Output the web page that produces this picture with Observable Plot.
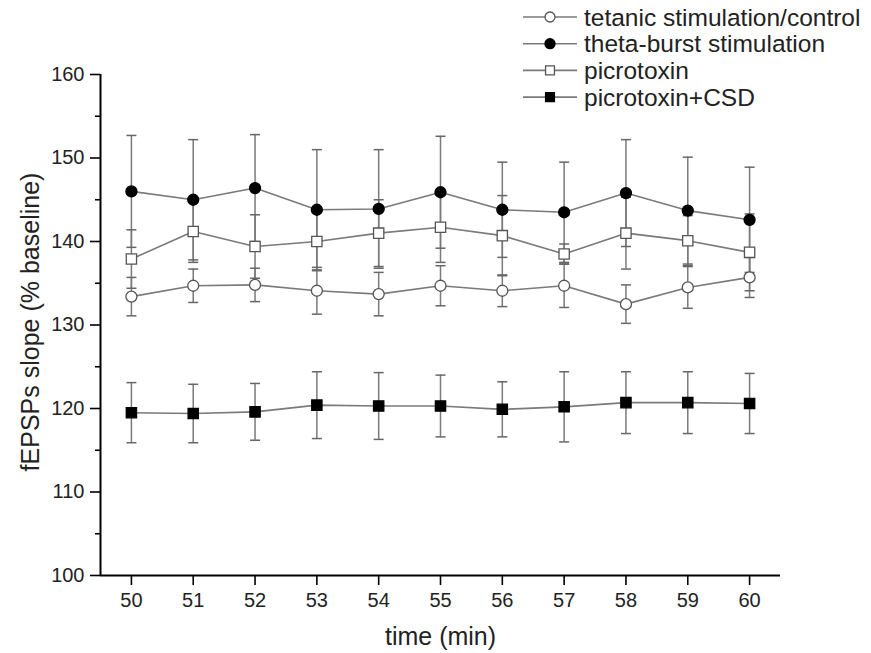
<!DOCTYPE html>
<html>
<head>
<meta charset="utf-8">
<script src="https://cdn.jsdelivr.net/npm/d3@7"></script>
<script src="https://cdn.jsdelivr.net/npm/@observablehq/plot@0.6"></script>
<style>
  body { margin: 0; background: #fff; }
  #wrap { position: relative; width: 871px; height: 653px; }
  #legend { position: absolute; left: 0; top: 0; }
</style>
</head>
<body>
<div id="wrap"></div>
<script>
// ---- data ----
const times = [50, 51, 52, 53, 54, 55, 56, 57, 58, 59, 60];
const seriesNames = ["tetanic stimulation/control", "theta-burst stimulation", "picrotoxin", "picrotoxin+CSD"];

const tetanic    = [133.4, 134.7, 134.8, 134.1, 133.7, 134.7, 134.1, 134.7, 132.5, 134.5, 135.7];
const tetanicErr = [2.3, 2.0, 2.0, 2.8, 2.6, 2.4, 1.9, 2.6, 2.3, 2.5, 2.4];
const theta      = [146.0, 145.0, 146.4, 143.8, 143.9, 145.9, 143.8, 143.5, 145.8, 143.7, 142.6];
const thetaErr   = [6.7, 7.2, 6.4, 7.2, 7.1, 6.7, 5.7, 6.0, 6.4, 6.4, 6.3];
const picro      = [137.9, 141.2, 139.4, 140.0, 141.0, 141.7, 140.7, 138.5, 141.0, 140.1, 138.7];
const picroErr   = [3.5, 3.7, 3.8, 3.5, 4.0, 4.2, 4.8, 1.2, 4.3, 3.0, 4.6];
const csd        = [119.5, 119.4, 119.6, 120.4, 120.3, 120.3, 119.9, 120.2, 120.7, 120.7, 120.6];
const csdErr     = [3.6, 3.5, 3.4, 4.0, 4.0, 3.7, 3.3, 4.2, 3.7, 3.7, 3.6];

const yTicks = [100, 110, 120, 130, 140, 150, 160];
const yMinorTicks = [105, 115, 125, 135, 145, 155];
const xTicks = [50, 51, 52, 53, 54, 55, 56, 57, 58, 59, 60];
const xTitle = "time (min)";
const yTitle = "fEPSPs slope (% baseline)";

// ---- styling ----
const seriesValues = [tetanic, theta, picro, csd];
const seriesErrors = [tetanicErr, thetaErr, picroErr, csdErr];
const seriesSymbols = ["circle", "circle", "square", "square"];
const seriesFills = ["white", "black", "white", "black"];
const seriesStrokes = ["#555", "black", "#555", "black"];
const seriesR = [5.5, 5.5, 5.8, 5.8];
const xDomain = [49.5, 60.5];
const yDomain = [100, 160];
const lineGray = "#7a7a7a";
const font = "'Liberation Sans', Arial, Helvetica, sans-serif";

const rows = seriesNames.flatMap((name, i) =>
  times.map((t, j) => ({
    name, i, t,
    v: seriesValues[i][j],
    lo: seriesValues[i][j] - seriesErrors[i][j],
    hi: seriesValues[i][j] + seriesErrors[i][j]
  }))
);

const capSymbol = {
  draw(ctx, size) {
    const r = Math.sqrt(size / Math.PI);
    ctx.moveTo(-r, 0);
    ctx.lineTo(r, 0);
  }
};

const markerMarks = seriesNames.map((name, i) =>
  Plot.dot(rows.filter(d => d.i === i), {
    x: "t", y: "v", symbol: seriesSymbols[i], r: seriesR[i],
    fill: seriesFills[i], stroke: seriesStrokes[i], strokeWidth: 1.3
  })
);

const chart = Plot.plot({
  width: 871,
  height: 653,
  marginLeft: 100,
  marginRight: 91,
  marginTop: 74,
  marginBottom: 78,
  style: { fontFamily: font, background: "white", color: "black", overflow: "visible" },
  x: { domain: xDomain },
  y: { domain: yDomain },
  marks: [
    // error bars
    Plot.ruleX(rows, { x: "t", y1: "lo", y2: "hi", stroke: lineGray, strokeWidth: 1.5 }),
    Plot.dot(rows, { x: "t", y: "hi", symbol: capSymbol, r: 5, fill: "none", stroke: "#666", strokeWidth: 1.5 }),
    Plot.dot(rows, { x: "t", y: "lo", symbol: capSymbol, r: 5, fill: "none", stroke: "#666", strokeWidth: 1.5 }),
    // connecting lines
    Plot.line(rows, { x: "t", y: "v", z: "name", stroke: lineGray, strokeWidth: 1.6 }),
    // markers
    ...markerMarks,
    // axes
    Plot.axisY(yTicks, { tickSize: 10, tickPadding: 6, fontSize: 20, label: null, stroke: "black", strokeWidth: 1.6, fill: "#222" }),
    Plot.axisY(yMinorTicks, { tickSize: 5, tickFormat: () => "", label: null, stroke: "black", strokeWidth: 1.6 }),
    Plot.axisX(xTicks, { tickSize: 10, tickPadding: 7, fontSize: 20, label: null, stroke: "black", strokeWidth: 1.6, fill: "#222" }),
    Plot.ruleX([xDomain[0]], { stroke: "black", strokeWidth: 2 }),
    Plot.ruleY([yDomain[0]], { stroke: "black", strokeWidth: 2 }),
    // axis titles
    Plot.text([yTitle], { frameAnchor: "left", textAnchor: "middle", lineAnchor: "middle", dx: -70, dy: -3, rotate: -90, fontSize: 25, fill: "#222" }),
    Plot.text([xTitle], { frameAnchor: "bottom", textAnchor: "middle", lineAnchor: "middle", dy: 61, fontSize: 25, fill: "#222" })
  ]
});

const wrap = document.getElementById("wrap");
wrap.appendChild(chart);

// ---- legend ----
const legend = d3.create("svg")
  .attr("id", "legend")
  .attr("width", 871)
  .attr("height", 120)
  .style("font-family", font);

const rowY = i => 17 + i * 26.7;
seriesNames.forEach((name, i) => {
  const g = legend.append("g").attr("transform", `translate(0,${rowY(i)})`);
  g.append("line").attr("x1", 523).attr("x2", 577).attr("y1", 0).attr("y2", 0)
    .attr("stroke", lineGray).attr("stroke-width", 1.6);
  const sym = seriesSymbols[i] === "circle" ? d3.symbolCircle : d3.symbolSquare;
  g.append("path")
    .attr("d", d3.symbol(sym, Math.PI * 5 * 5)())
    .attr("transform", "translate(550,0)")
    .attr("fill", seriesFills[i]).attr("stroke", seriesStrokes[i]).attr("stroke-width", 1.3);
  g.append("text").attr("x", 584).attr("y", 0).attr("dy", "0.35em")
    .attr("font-size", 24.5).attr("fill", "#222").text(name);
});
wrap.appendChild(legend.node());
</script>
</body>
</html>
